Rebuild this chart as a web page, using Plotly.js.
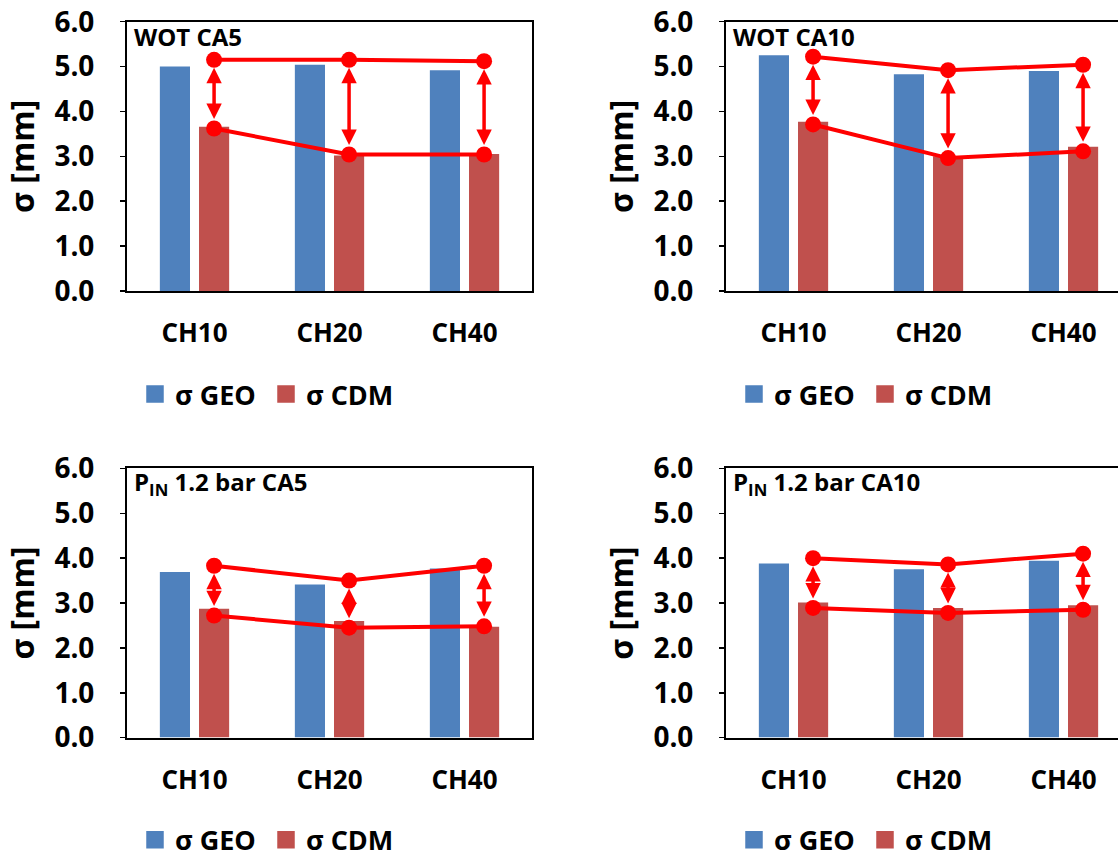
<!DOCTYPE html>
<html>
<head>
<meta charset="utf-8">
<script src="https://cdn.plot.ly/plotly-3.0.1.min.js"></script>
<style>
html, body { margin: 0; padding: 0; width: 100%; height: 100%; overflow: hidden; background: #fff; }
#chart { position: absolute; left: 0; top: 0; width: 1118px; height: 865px; overflow: hidden; }
</style>
</head>
<body>
<div id="chart"></div>
<script>
// ---- data ----
const categories = ['CH10', 'CH20', 'CH40'];
const seriesNames = ['σ GEO', 'σ CDM'];
const panelLabels = ['WOT CA5', 'WOT CA10', 'P<sub>IN</sub> 1.2 bar CA5', 'P<sub>IN</sub> 1.2 bar CA10'];
const yTickVals = [0, 1, 2, 3, 4, 5, 6];
const yTitle = 'σ [mm]';

const geo_WOT_CA5 = [5.00, 5.04, 4.92];
const cdm_WOT_CA5 = [3.66, 3.02, 3.05];
const upper_WOT_CA5 = [5.15, 5.15, 5.12];
const lower_WOT_CA5 = [3.62, 3.04, 3.04];

const geo_WOT_CA10 = [5.25, 4.83, 4.90];
const cdm_WOT_CA10 = [3.77, 3.00, 3.21];
const upper_WOT_CA10 = [5.22, 4.92, 5.04];
const lower_WOT_CA10 = [3.71, 2.96, 3.11];

const geo_PIN_CA5 = [3.69, 3.41, 3.77];
const cdm_PIN_CA5 = [2.87, 2.60, 2.47];
const upper_PIN_CA5 = [3.83, 3.50, 3.83];
const lower_PIN_CA5 = [2.72, 2.45, 2.48];

const geo_PIN_CA10 = [3.88, 3.75, 3.94];
const cdm_PIN_CA10 = [3.01, 2.89, 2.95];
const upper_PIN_CA10 = [4.00, 3.86, 4.10];
const lower_PIN_CA10 = [2.89, 2.78, 2.85];

// ---- layout / style ----
const W = 1118, H = 865;
const fx = px => px / W;
const fy = py => 1 - py / H;
const FONT = '"Open Sans", Lato, sans-serif';
const BLUE = '#4F81BD', RED_BAR = '#C0504D', RED = '#FF0000';
const BARGAP = 0.42, BARGROUPGAP = 0.23;
const cdmOffset = (1 - BARGAP) / 4;   // centre of the 2nd bar in each group
const xIdx = categories.map((c, i) => i);
const xCdm = xIdx.map(i => i + cdmOffset);
const PX_PER_CAT = 135;   // full plot width 405 px for 3 categories
const PH = 273;

const panels = [
  { geo: geo_WOT_CA5, cdm: cdm_WOT_CA5, up: upper_WOT_CA5, lo: lower_WOT_CA5, x0: 127, x1: 532, y0: 22, legY: 400, right: false },
  { geo: geo_WOT_CA10, cdm: cdm_WOT_CA10, up: upper_WOT_CA10, lo: lower_WOT_CA10, x0: 726, x1: 1118, y0: 22, legY: 400, right: true },
  { geo: geo_PIN_CA5, cdm: cdm_PIN_CA5, up: upper_PIN_CA5, lo: lower_PIN_CA5, x0: 127, x1: 532, y0: 475, legY: 852, right: false },
  { geo: geo_PIN_CA10, cdm: cdm_PIN_CA10, up: upper_PIN_CA10, lo: lower_PIN_CA10, x0: 726, x1: 1118, y0: 475, legY: 852, right: true }
];

const data = [];
const annotations = [];
const layout = {
  width: W, height: H,
  margin: { l: 0, r: 0, t: 0, b: 0 },
  paper_bgcolor: '#fff', plot_bgcolor: '#fff',
  barmode: 'group', bargap: BARGAP, bargroupgap: BARGROUPGAP,
  font: { family: FONT, size: 26, color: '#000', weight: 'bold' },
  annotations: annotations
};

panels.forEach((p, k) => {
  const n = k + 1;
  const xa = n === 1 ? 'x' : 'x' + n;
  const ya = n === 1 ? 'y' : 'y' + n;
  const xKey = n === 1 ? 'xaxis' : 'xaxis' + n;
  const yKey = n === 1 ? 'yaxis' : 'yaxis' + n;
  const legKey = n === 1 ? 'legend' : 'legend' + n;

  layout[xKey] = {
    domain: [fx(p.x0), fx(p.x1)], anchor: ya,
    range: [-0.5, -0.5 + (p.x1 - p.x0) / PX_PER_CAT], fixedrange: true,
    tickvals: xIdx, ticktext: categories,
    ticks: '', ticklabelstandoff: 18,
    showline: true, linecolor: '#000', linewidth: 2, mirror: true,
    showgrid: false, zeroline: false,
    tickfont: { family: FONT, size: 26, color: '#000', weight: 'bold' },
    automargin: false
  };
  layout[yKey] = {
    domain: [fy(p.y0 + PH), fy(p.y0)], anchor: xa,
    range: [0, 6], fixedrange: true,
    tickvals: yTickVals, tickformat: '.1f',
    ticks: 'outside', ticklen: 5, tickwidth: 1.5, tickcolor: '#000',
    ticklabelstandoff: 20,
    showline: true, linecolor: '#000', linewidth: 2, mirror: !p.right,
    showgrid: false, zeroline: false,
    tickfont: { family: FONT, size: 28, color: '#000', weight: 'bold' },
    title: { text: yTitle, standoff: 10, font: { family: FONT, size: 32, color: '#000', weight: 'bold' } },
    automargin: false
  };
  layout[legKey] = {
    orientation: 'h', x: fx(p.x0 + 8), xanchor: 'left',
    y: fy(p.legY), yanchor: 'middle',
    font: { family: FONT, size: 27, color: '#000', weight: 'bold' },
    bgcolor: 'rgba(0,0,0,0)', borderwidth: 0,
    entrywidth: 86, entrywidthmode: 'pixels',
    itemsizing: 'trace', traceorder: 'normal'
  };

  data.push({
    type: 'bar', name: seriesNames[0], x: xIdx, y: p.geo, xaxis: xa, yaxis: ya,
    marker: { color: BLUE }, showlegend: false, hoverinfo: 'y'
  });
  data.push({
    type: 'bar', name: seriesNames[1], x: xIdx, y: p.cdm, xaxis: xa, yaxis: ya,
    marker: { color: RED_BAR }, showlegend: false, hoverinfo: 'y'
  });
  // legend entries (square swatches)
  [BLUE, RED_BAR].forEach((c, j) => {
    data.push({
      type: 'scatter', mode: 'markers', name: seriesNames[j], x: [null], y: [null],
      xaxis: xa, yaxis: ya, legend: legKey, showlegend: true,
      marker: { symbol: 'square', size: 16, color: c, line: { width: 1.5, color: c } }
    });
  });
  // red lines
  [p.up, p.lo].forEach(arr => {
    data.push({
      type: 'scatter', mode: 'lines+markers', x: xCdm, y: arr, xaxis: xa, yaxis: ya,
      line: { color: RED, width: 4 }, marker: { color: RED, size: 16 },
      showlegend: false, hoverinfo: 'y'
    });
  });
  // double arrows
  xCdm.forEach((xv, i) => {
    annotations.push({
      xref: xa, yref: ya, axref: xa, ayref: ya,
      x: xv, y: p.up[i], ax: xv, ay: p.lo[i], text: '',
      showarrow: true, arrowside: 'end+start',
      arrowhead: 2, startarrowhead: 2, arrowsize: 0.88, startarrowsize: 0.88,
      arrowwidth: 3.5, arrowcolor: RED, standoff: 8, startstandoff: 8
    });
  });
  // panel label
  annotations.push({
    xref: 'paper', yref: 'paper', x: fx(p.x0 + 5), y: fy(p.y0 + 15),
    xanchor: 'left', yanchor: 'middle', showarrow: false,
    text: panelLabels[k],
    font: { family: FONT, size: 24, color: '#000', weight: 'bold' }
  });
});

Plotly.newPlot('chart', data, layout, { staticPlot: true, displayModeBar: false });
</script>
</body>
</html>
